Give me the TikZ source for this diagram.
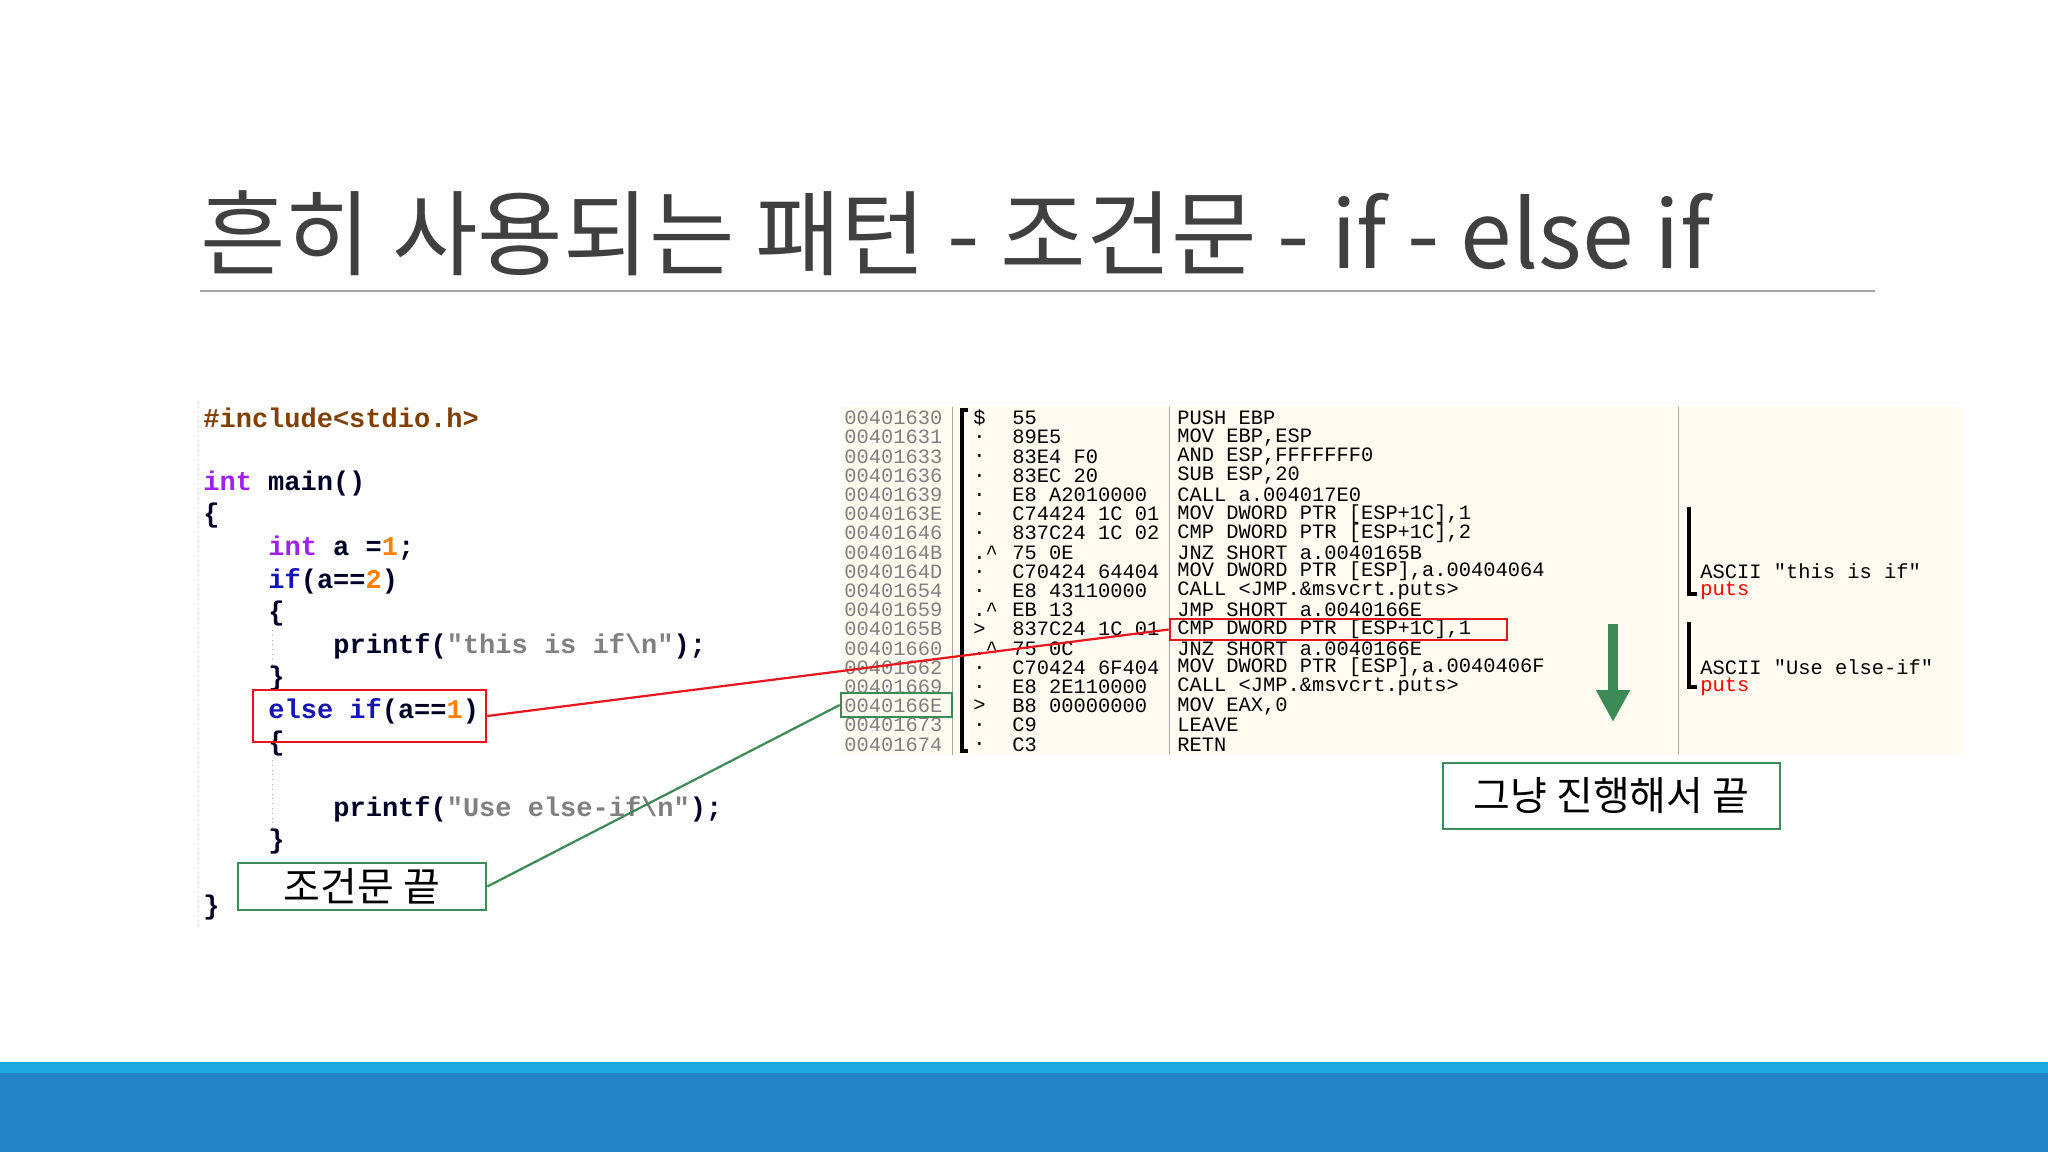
\documentclass[tikz,border=0pt]{standalone}
\usepackage{fontspec}
\newfontfamily\kr{Noto Sans CJK KR}
\newfontfamily\codef{Liberation Mono}
\usetikzlibrary{arrows.meta}
\definecolor{titlegray}{HTML}{404040}
\definecolor{kwpurple}{HTML}{A020F0}
\definecolor{kwblue}{HTML}{1414B8}
\definecolor{numorange}{HTML}{FF8000}
\definecolor{strgray}{HTML}{808080}
\definecolor{incbrown}{HTML}{804000}
\definecolor{panelbg}{HTML}{FFFBF0}
\definecolor{boxgreen}{HTML}{3C8A55}
\definecolor{boxred}{HTML}{E8141E}
\definecolor{lightblue}{HTML}{1FA9E1}
\definecolor{darkblue}{HTML}{2484C6}
\tikzset{
  code/.style={anchor=west,inner sep=0pt,font=\codef\bfseries\fontsize{13.5}{16}\selectfont,text=black!85!blue},
  asm/.style={anchor=west,inner sep=0pt,font=\codef\fontsize{10.2}{12}\selectfont},
  addr/.style={asm,text=strgray},
  redbox/.style={draw=boxred,line width=1.3pt},
  greenbox/.style={draw=boxgreen,line width=1.3pt},
  krlabel/.style={font=\kr\fontsize{20}{24}\selectfont,text=black}
}
\begin{document}
\begin{tikzpicture}[x=0.5pt,y=-0.5pt]
\useasboundingbox (0,0) rectangle (2048,1152);
\fill[white] (0,0) rectangle (2048,1152);
% title
\node[anchor=base west,inner sep=0pt,font=\kr\fontsize{46.5}{52}\selectfont,text=titlegray] (title) at (200,268) {흔히 사용되는 패턴 - 조건문 - if - else if};
\draw[gray!70,line width=0.8pt] (200,291) -- (1875,291);
% bottom bars
\fill[lightblue] (0,1062) rectangle (2048,1073);
\fill[darkblue] (0,1073) rectangle (2048,1152);
% code panel
\draw[gray!40,dotted] (198,402) -- (198,927);
\draw[gray!60,dotted] (272,630) -- (272,665);
\draw[gray!60,dotted] (272,760) -- (272,830);
\def\cy#1{418+32.6*#1}
\node[code,text=incbrown] (c0) at (203,{\cy{0}}) {\#include<stdio.h>};
\node[code] (c2) at (203,{\cy{2}}) {\textcolor{kwpurple}{int} main()};
\node[code] (c3) at (203,{\cy{3}}) {\{};
\node[code] (c4) at (268,{\cy{4}}) {\textcolor{kwpurple}{int} a =\textcolor{numorange}{1};};
\node[code] (c5) at (268,{\cy{5}}) {\textcolor{kwblue}{if}(a==\textcolor{numorange}{2})};
\node[code] (c6) at (268,{\cy{6}}) {\{};
\node[code] (c7) at (333,{\cy{7}}) {printf(\textcolor{strgray}{"this is if{\textbackslash}n"});};
\node[code] (c8) at (268,{\cy{8}}) {\}};
\node[code] (c9) at (268,{\cy{9}}) {\textcolor{kwblue}{else if}(a==\textcolor{numorange}{1})};
\node[code] (c10) at (268,{\cy{10}}) {\{};
\node[code] (c12) at (333,{\cy{12}}) {printf(\textcolor{strgray}{"Use else-if{\textbackslash}n"});};
\node[code] (c13) at (268,{\cy{13}}) {\}};
\node[code] (c15) at (203,{\cy{15}}) {\}};
\node[redbox,minimum width=116.5pt,minimum height=26pt,inner sep=0pt] (rbox1) at (369.5,716) {};
\node[greenbox,fill=white,minimum width=124pt,minimum height=23.5pt,inner sep=0pt,krlabel] (gbox1) at (362,886.5) {조건문 끝};
% disassembly panel
\fill[panelbg] (841,407) rectangle (1963,755);
\draw[gray!70] (952,407) -- (952,755);
\draw[gray!70] (1169,407) -- (1169,755);
\draw[gray!70] (1678,407) -- (1678,755);
\def\ry#1{418+19.2*#1}
\foreach \i/\ad/\mk/\hx/\ins in {
0/00401630/\$/55/PUSH EBP,
1/00401631/./89E5/{MOV EBP,ESP},
2/00401633/./83E4 F0/{AND ESP,FFFFFFF0},
3/00401636/./83EC 20/{SUB ESP,20},
4/00401639/./E8 A2010000/CALL a.004017E0,
5/0040163E/./C74424 1C 01/{MOV DWORD PTR [ESP+1C],1},
6/00401646/./837C24 1C 02/{CMP DWORD PTR [ESP+1C],2},
7/0040164B/.\textasciicircum/75 0E/JNZ SHORT a.0040165B,
8/0040164D/./C70424 64404/{MOV DWORD PTR [ESP],a.00404064},
9/00401654/./E8 43110000/CALL <JMP.\&msvcrt.puts>,
10/00401659/.\textasciicircum/EB 13/JMP SHORT a.0040166E,
11/0040165B/>/837C24 1C 01/{CMP DWORD PTR [ESP+1C],1},
12/00401660/.\textasciicircum/75 0C/JNZ SHORT a.0040166E,
13/00401662/./C70424 6F404/{MOV DWORD PTR [ESP],a.0040406F},
14/00401669/./E8 2E110000/CALL <JMP.\&msvcrt.puts>,
15/0040166E/>/B8 00000000/{MOV EAX,0},
16/00401673/./C9/LEAVE,
17/00401674/./C3/RETN}{
  \node[addr] (a\i) at (844,{\ry{\i}}) {\ad};
  \node[asm] (m\i) at (973,{\ry{\i}}) {\mk};
  \node[asm] (h\i) at (1012,{\ry{\i}}) {\hx};
  \node[asm] (n\i) at (1177,{\ry{\i}}) {\ins};
}
\draw[line width=1.6pt] (968,410) -- (962,410) -- (962,751) -- (968,751);
% comments
\draw[line width=1.6pt] (1689,507) -- (1689,594) -- (1697,594);
\node[asm] (cm1) at (1700,{\ry{8}}) {ASCII "this is if"};
\node[asm,text=red] (cp1) at (1700,{\ry{9}}) {puts};
\draw[line width=1.6pt] (1689,622) -- (1689,687) -- (1697,687);
\node[asm] (cm2) at (1700,{\ry{13}}) {ASCII "Use else-if"};
\node[asm,text=red] (cp2) at (1700,{\ry{14}}) {puts};
% highlight boxes
\node[redbox,minimum width=168.5pt,minimum height=10.5pt,inner sep=0pt] (rbox2) at (1338.5,629.5) {};
\node[greenbox,minimum width=55.5pt,minimum height=12pt,inner sep=0pt] (gbox2) at (896.5,705) {};
% connectors
\draw[boxred,line width=1.1pt] (rbox1.east) -- (rbox2.west);
\draw[boxgreen,line width=1.1pt] (gbox1.east) -- (gbox2.west);
% arrow
\coordinate (ar1) at (1613,624);
\coordinate (ar2) at (1613,722);
\draw[boxgreen,line width=5pt,-{Triangle[length=16pt,width=16pt]}] (ar1) -- (ar2);
\node[greenbox,fill=white,minimum width=168.5pt,minimum height=33pt,inner sep=0pt,krlabel] (gbox3) at (1611.5,796) {그냥 진행해서 끝};
\end{tikzpicture}
\end{document}
